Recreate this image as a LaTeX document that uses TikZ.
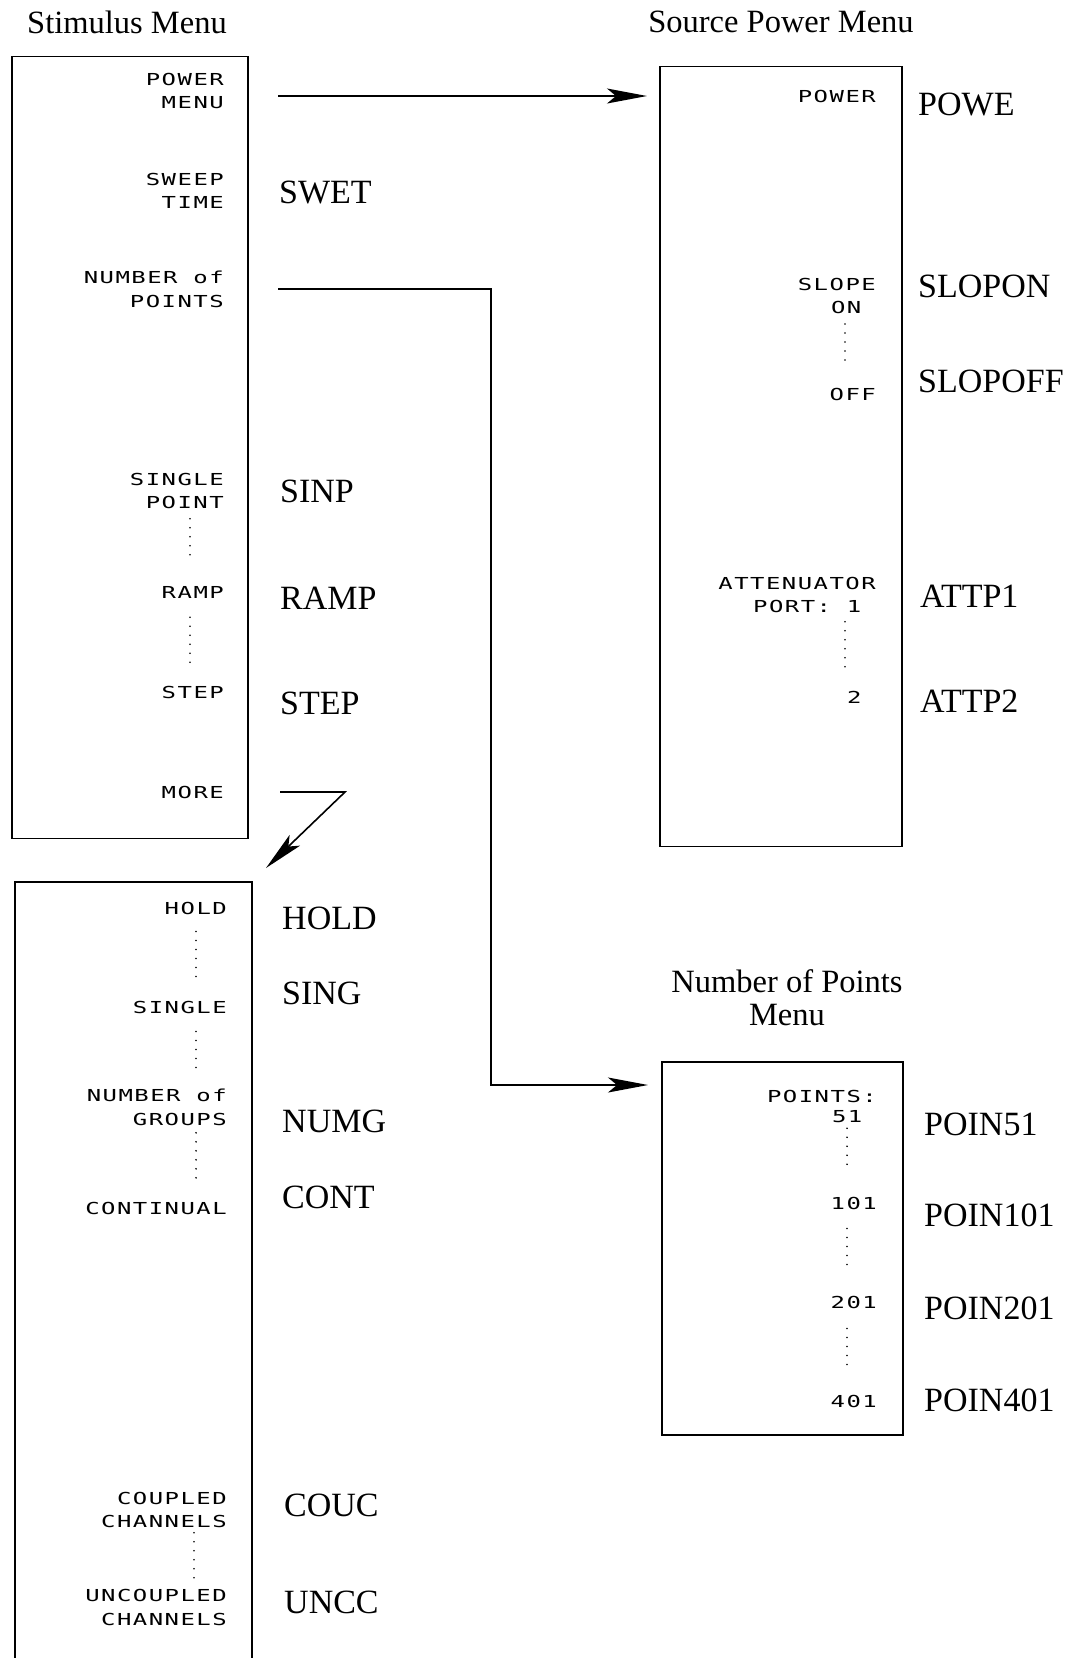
\documentclass[tikz,border=0pt]{standalone}
\usepackage{fontspec}
\setmainfont{Liberation Serif}
\newfontfamily\plotfont[FakeStretch=1.45,LetterSpace=9]{DejaVu Sans Mono}
\usetikzlibrary{arrows.meta}

\tikzset{
  menubox/.style = {rectangle, draw, line width=1.6pt, inner sep=0pt, outer sep=0pt, anchor=north west},
  softkey/.style = {font=\plotfont\fontsize{16.5}{23.5}\selectfont, align=right, anchor=east, inner sep=0pt},
  mnemonic/.style = {font=\fontsize{34}{36}\selectfont, anchor=west, inner sep=0pt},
  menutitle/.style = {font=\fontsize{32.5}{33}\selectfont, align=center, inner sep=0pt},
  arrow/.style = {-{Stealth[length=40pt, width=15pt, inset=9pt]}, line width=1.6pt},
  flow/.style = {line width=1.6pt},
  dotline/.style = {line width=1.8pt, line cap=round, dash pattern=on 0pt off 9pt},
}

\begin{document}
\begin{tikzpicture}[x=1pt, y=-1pt]
  \useasboundingbox (0,0) rectangle (1079,1658);

  % columns of the dotted toggles
  \coordinate (colA) at (190,0);
  \coordinate (colB) at (196,0);
  \coordinate (colC) at (845,0);
  \coordinate (colD) at (847,0);

  % --- Stimulus menu ---
  \node[menutitle] (tStim) at (127,22) {Stimulus Menu};
  \node[menubox, minimum width=236pt, minimum height=782pt] (stim) at (12,56.5) {};
  \node[softkey] (kPower) at (224,91)    {POWER\\MENU};
  \node[softkey] (kSweep) at (224,191)   {SWEEP\\TIME};
  \node[softkey] (kNum)   at (224,289.5) {NUMBER of\\POINTS};
  \node[softkey] (kSinp)  at (224,491)   {SINGLE\\POINT};
  \node[softkey] (kRamp)  at (224,592.5) {RAMP};
  \node[softkey] (kStep)  at (224,692.5) {STEP};
  \node[softkey] (kMore)  at (224,792)   {MORE};

  \node[mnemonic] (mSwet) at (279,192) {SWET};
  \node[mnemonic] (mSinp) at (280,491) {SINP};
  \node[mnemonic] (mRamp) at (280,598) {RAMP};
  \node[mnemonic] (mStep) at (280,703) {STEP};

  \draw[dotline, shorten <=9.5pt, shorten >=23.5pt] (kSinp.south -| colA) -- (kRamp.north -| colA);
  \draw[dotline, shorten <=18.5pt, shorten >=23.5pt] (kRamp.south -| colA) -- (kStep.north -| colA);

  % --- Stimulus menu, more ---
  \draw[flow] (15,1662) |- (252,882) -- (252,1662);
  \node[softkey] (kHold)   at (227,908)    {HOLD};
  \node[softkey] (kSingle) at (227,1007)   {SINGLE};
  \node[softkey] (kGroups) at (227,1107.5) {NUMBER of\\GROUPS};
  \node[softkey] (kCont)   at (227,1208)   {CONTINUAL};
  \node[softkey] (kCoup)   at (227,1510)   {COUPLED\\CHANNELS};
  \node[softkey] (kUncoup) at (227,1607.5) {UNCOUPLED\\CHANNELS};

  \node[mnemonic] (mHold) at (282,918)  {HOLD};
  \node[mnemonic] (mSing) at (282,993)  {SING};
  \node[mnemonic] (mNumg) at (282,1121) {NUMG};
  \node[mnemonic] (mCont) at (282,1197) {CONT};
  \node[mnemonic] (mCouc) at (284,1505) {COUC};
  \node[mnemonic] (mUncc) at (284,1602) {UNCC};

  \draw[dotline, shorten <=17pt, shorten >=17pt] (kHold.south -| colB) -- (kSingle.north -| colB);
  \draw[dotline, shorten <=18pt, shorten >=13pt] (kSingle.south -| colB) -- (kGroups.north -| colB);
  \draw[dotline, shorten <=7pt, shorten >=23pt] (kGroups.south -| colB) -- (kCont.north -| colB);
  \draw[dotline, shorten <=4.5pt, shorten >=10pt] ([xshift=-2pt]kCoup.south -| colB) -- ([xshift=-2pt]kUncoup.north -| colB);

  % --- Source power menu ---
  \node[menutitle] (tPower) at (781,22) {Source Power Menu};
  \node[menubox, minimum width=242pt, minimum height=780pt] (srcpow) at (660,66.5) {};
  \node[softkey] (kPowe)  at (876,96)     {POWER};
  \node[softkey] (kSlope) at (876,295.75) {SLOPE\\ON\hphantom{E}};
  \node[softkey] (kOff)   at (876,394)    {OFF};
  \node[softkey] (kAtt)   at (876,595)    {ATTENUATOR\\PORT: 1\hphantom{R}};
  \node[softkey] (kAtt2)  at (876,697)    {2\hphantom{R}};

  \node[mnemonic] (mPowe)    at (918,104) {POWE};
  \node[mnemonic] (mSlopon)  at (918,286) {SLOPON};
  \node[mnemonic] (mSlopoff) at (918,381) {SLOPOFF};
  \node[mnemonic] (mAttp1)   at (920,596) {ATTP1};
  \node[mnemonic] (mAttp2)   at (920,701) {ATTP2};

  \draw[dotline, shorten <=10pt, shorten >=20pt] (kSlope.south -| colC) -- (kOff.north -| colC);
  \draw[dotline, shorten <=8.5pt, shorten >=21pt] (kAtt.south -| colC) -- (kAtt2.north -| colC);

  % --- Number of points menu ---
  \node[menutitle] (tPoints) at (787,998) {Number of Points\\Menu};
  \node[menubox, minimum width=241pt, minimum height=373pt] (numpts) at (662,1062) {};
  \node[softkey] (kPts)  at (877,1096) {POINTS:};
  \node[softkey] (k51)   at (877,1117) {51\hphantom{0}};
  \node[softkey] (k101)  at (877,1203) {101};
  \node[softkey] (k201)  at (877,1302) {201};
  \node[softkey] (k401)  at (877,1401) {401};

  \node[mnemonic] (mP51)  at (924,1124) {POIN51};
  \node[mnemonic] (mP101) at (924,1215) {POIN101};
  \node[mnemonic] (mP201) at (924,1308) {POIN201};
  \node[mnemonic] (mP401) at (924,1400) {POIN401};

  \draw[dotline, shorten <=5pt, shorten >=24pt] (k51.south -| colD) -- (k101.north -| colD);
  \draw[dotline, shorten <=19pt, shorten >=23pt] (k101.south -| colD) -- (k201.north -| colD);
  \draw[dotline, shorten <=20pt, shorten >=22pt] (k201.south -| colD) -- (k401.north -| colD);

  % --- links between menus ---
  \coordinate (pmOut)    at (278,96);
  \coordinate (npOut)    at (278,289);
  \coordinate (npBend)   at (491,1085);
  \coordinate (moreOut)  at (280,792);
  \coordinate (moreBend) at (345,792);
  \coordinate (moreIn)   at (266,868);

  \draw[arrow, shorten >=13pt] (pmOut) -- (pmOut -| srcpow.west);
  \draw[arrow, shorten >=14pt] (npOut) -| (npBend) -- (npBend -| numpts.west);
  \draw[arrow] (moreOut) -- (moreBend) -- (moreIn);
\end{tikzpicture}
\end{document}
